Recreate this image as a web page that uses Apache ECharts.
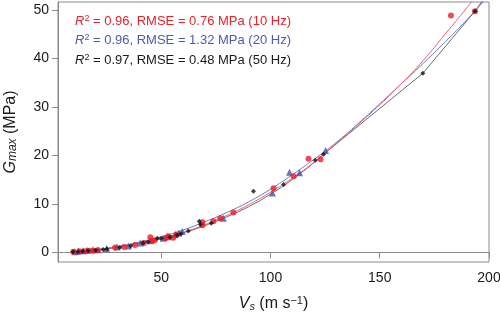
<!DOCTYPE html>
<html>
<head>
<meta charset="utf-8">
<script src="https://cdn.jsdelivr.net/npm/echarts@6/dist/echarts.min.js"></script>
<style>
  html, body { margin: 0; padding: 0; background: #fff; }
  #chart { width: 500px; height: 315px; }
</style>
</head>
<body>
<div id="chart"></div>
<script>
// tick labels
const xTicks = [50, 100, 150, 200];
const yTicks = [0, 10, 20, 30, 40, 50];

// measured points [Vs, Gmax]
const red10 = [[9.8,0.1],[12.5,0.2],[15,0.2],[17,0.3],[18.8,0.3],[21,0.4],[28.9,1.0],[33,1.1],[38,1.5],[42,1.9],
  [45,3.1],[45.9,2.4],[47,2.5],[52,2.9],[53.2,3.3],[55.5,3.0],[57,3.6],[68.8,5.6],[68.8,6.2],[73.9,6.4],[77,7.0],
  [83,8.2],[101.4,13.2],[110.6,15.7],[117.4,19.3],[122.9,19.2],[182.6,48.8],[193.6,49.7]];
const blue20 = [[10.5,0.1],[12,0.2],[14.2,0.3],[16,0.4],[18.8,0.5],[21,0.5],[25,0.8],[29.8,1.1],[35,1.3],[40.4,1.9],
  [45,2.4],[50.9,2.9],[53,3.2],[56.4,3.7],[58,4.0],[59.6,4.3],[78.4,7.0],[100.9,12.2],[108.7,16.5],[113.3,16.4],[125.2,21.0]];
const black50 = [[9.6,0.1],[12,0.1],[14,0.2],[16.5,0.3],[20,0.4],[23.4,0.6],[25.2,0.7],[31,1.0],[36,1.3],[41.7,1.9],
  [44,2.1],[48.2,2.9],[50,2.9],[54,3.1],[57.3,3.5],[59,3.8],[62.4,4.4],[67.4,6.4],[67.9,5.8],[72.9,6.0],[92.2,12.6],
  [106,14.0],[120.5,19.0],[124.3,20.2],[169.7,36.9],[193.6,49.7]];

// fitted curves
const redFit = [[10,0.1],[20,0.4],[30,1.0],[40,1.8],[50,2.8],[60,4.1],[70,5.7],[80,7.6],[90,9.8],[100,12.4],
  [110,15.3],[120,18.6],[130,22.4],[140,26.3],[150,30.4],[160,34.8],[170,39.6],[180,45.0],[190,50.5],[193,52.3]];
const blueFit = [[10,0.1],[20,0.5],[30,1.2],[40,2.1],[50,3.2],[60,4.6],[70,6.3],[80,8.2],[90,10.4],[100,13.0],
  [110,16.0],[120,19.2],[130,22.6],[140,26.5],[150,30.6],[160,34.8],[170,39.0],[180,43.4],[190,48.0],[198,52.0]];
const blackFit = [[10,0.1],[15,0.25],[20,0.5],[25,0.75],[30,1.1],[35,1.45],[40,1.9],[45,2.3],[50,2.8],[55,3.4],
  [60,4.0],[65,4.7],[70,5.5],[75,6.4],[80,7.3],[85,8.3],[90,9.4],[95,10.6],[100,12.0],[105,13.4],[110,15.0],
  [117,17.4],[124.3,20.2],[169.7,36.9],[193.6,49.7],[197.5,52.2]];

const legendLines = [
  { text: '{i|R}{sup|2} = 0.96, RMSE = 0.76 MPa (10 Hz)', color: '#e8222c' },
  { text: '{i|R}{sup|2} = 0.96, RMSE = 1.32 MPa (20 Hz)', color: '#4b5cae' },
  { text: '{i|R}{sup|2} = 0.97, RMSE = 0.48 MPa (50 Hz)', color: '#1a1a1a' }
];

const font = 'Liberation Sans, Arial, sans-serif';
const chart = echarts.init(document.getElementById('chart'));

function lineSeries(data, color, width, smooth) {
  return {
    type: 'line', data: data, smooth: smooth, symbol: 'none', silent: true,
    lineStyle: { color: color, width: width }, z: 2
  };
}

chart.setOption({
  animation: false,
  textStyle: { fontFamily: font },
  grid: {
    left: 58, right: 11, top: 2, bottom: 53, outerBoundsMode: 'none', containLabel: false,
    show: true, borderColor: '#8a8a8a', borderWidth: 1
  },
  xAxis: {
    type: 'value', min: 2.75, max: 200,
    name: '{i|V}{sub|s} (m s{sup|−1})',
    nameLocation: 'middle', nameGap: 33,
    nameTextStyle: {
      fontSize: 16, color: '#1a1a1a', fontFamily: font,
      rich: {
        i: { fontSize: 16, fontStyle: 'italic', fontFamily: font },
        sub: { fontSize: 11, fontStyle: 'italic', verticalAlign: 'bottom', padding: [6, 0, 0, 0], fontFamily: font },
        sup: { fontSize: 11, verticalAlign: 'top', padding: [0, 0, 6, 0], fontFamily: font }
      }
    },
    axisLine: { lineStyle: { color: '#8a8a8a' } },
    axisTick: { customValues: xTicks, length: 6, lineStyle: { color: '#8a8a8a' } },
    axisLabel: { customValues: xTicks, fontSize: 14, color: '#1a1a1a', margin: 9 },
    splitLine: { show: false }
  },
  yAxis: {
    type: 'value', min: -2, max: 51.6,
    name: '{i|G}{sub|max} (MPa)',
    nameLocation: 'middle', nameRotate: 90, nameGap: 39,
    nameTextStyle: {
      fontSize: 16, color: '#1a1a1a', fontFamily: font,
      rich: {
        i: { fontSize: 16, fontStyle: 'italic', fontFamily: font },
        sub: { fontSize: 12, fontStyle: 'italic', verticalAlign: 'bottom', padding: [5, 0, 0, 0], fontFamily: font }
      }
    },
    axisLine: { show: true, lineStyle: { color: '#8a8a8a' } },
    axisTick: { show: true, customValues: yTicks, length: 6, lineStyle: { color: '#8a8a8a' } },
    axisLabel: { customValues: yTicks, fontSize: 14, color: '#1a1a1a', margin: 9 },
    splitLine: { show: false }
  },
  graphic: legendLines.map((l, k) => ({
    type: 'text', left: 75, top: 14 + k * 19.5,
    style: {
      text: l.text, fill: l.color, font: '13px ' + font,
      rich: {
        i: { fontStyle: 'italic', fontSize: 13, fill: l.color, fontFamily: font },
        sup: { fontSize: 9, fill: l.color, verticalAlign: 'top', padding: [0, 0, 5, 0], fontFamily: font }
      }
    }
  })),
  series: [
    lineSeries(blackFit, '#6b6b6b', 1, false),
    lineSeries(blueFit, '#6a78cc', 1, true),
    lineSeries(redFit, '#f0606c', 1, true),
    {
      type: 'scatter', data: blue20, symbol: 'triangle', symbolSize: 7,
      itemStyle: { color: '#4452a8' }, z: 3
    },
    {
      type: 'scatter', data: red10, symbol: 'circle', symbolSize: 6,
      itemStyle: { color: '#ee1c25' }, z: 4
    },
    {
      type: 'scatter', data: black50, symbol: 'diamond', symbolSize: 5,
      itemStyle: { color: '#111111' }, z: 5
    }
  ]
});
</script>
</body>
</html>
